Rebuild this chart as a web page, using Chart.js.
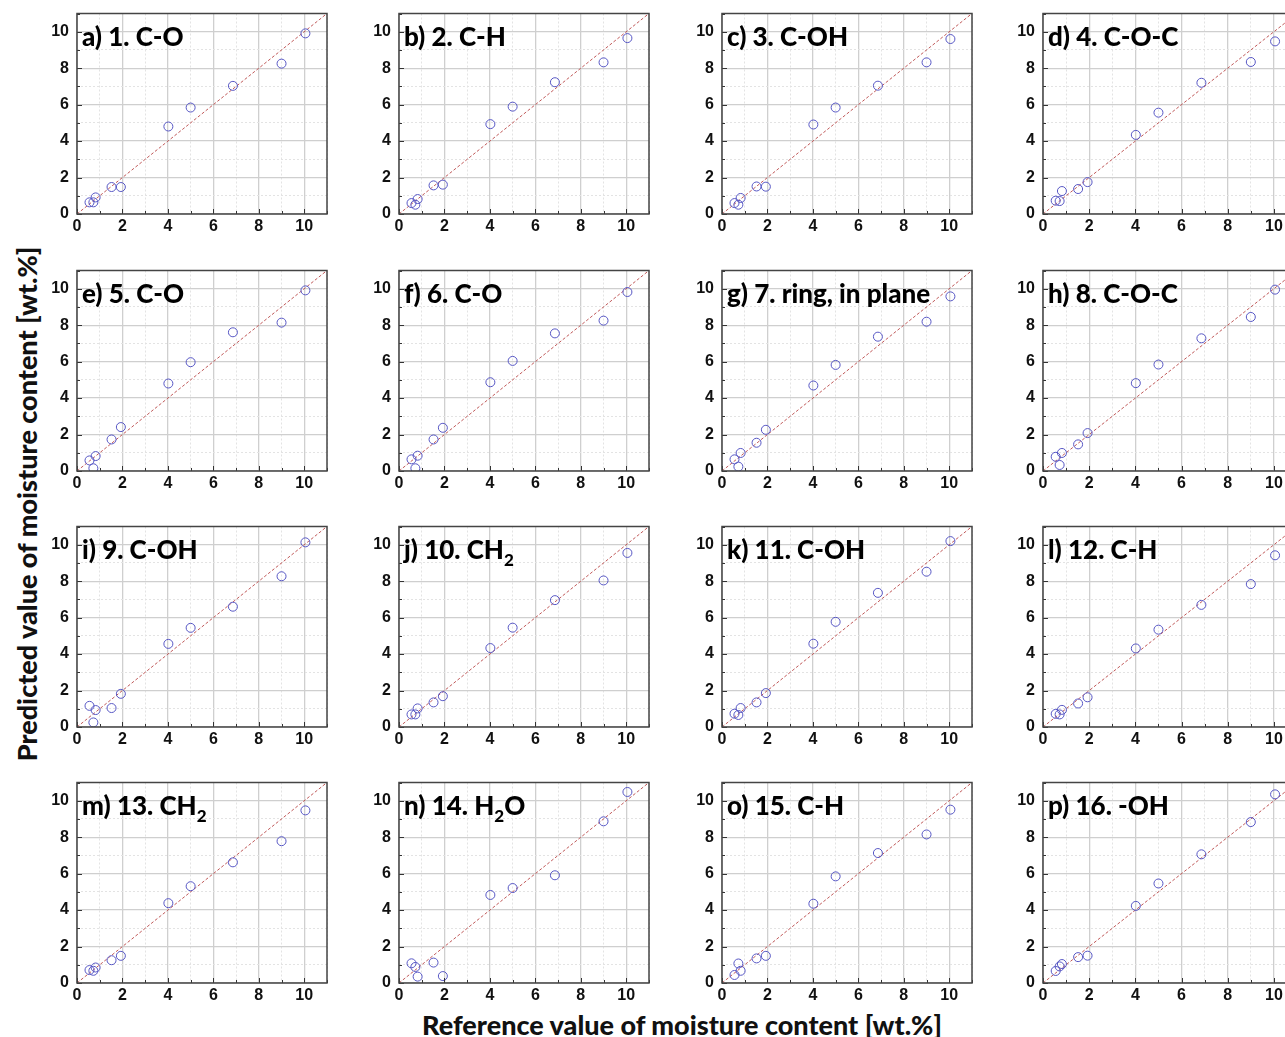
<!DOCTYPE html>
<html>
<head>
<meta charset="utf-8">
<script src="https://cdn.jsdelivr.net/npm/chart.js@4.4.1/dist/chart.umd.min.js"></script>
<style>
  html, body { margin: 0; padding: 0; background: #fff; overflow: hidden; }
  body { width: 1285px; height: 1037px; position: relative; }
  .panel { position: absolute; }
  .axis-title { position: absolute; font-family: Lato, 'Open Sans', sans-serif; font-weight: 900; font-size: 27px; color: #111; white-space: nowrap; }
  #ytitle { left: 26px; top: 504px; transform: translate(-50%, -50%) rotate(-90deg); }
  #xtitle { left: 682px; top: 1024px; transform: translate(-50%, -50%); }
</style>
</head>
<body>
<div id="ytitle" class="axis-title">Predicted value of moisture content [wt.%]</div>
<div id="xtitle" class="axis-title">Reference value of moisture content [wt.%]</div>
<script>
// reference moisture content, shared by all panels
const refX = [0.55, 0.72, 0.82, 1.52, 1.93, 4.02, 5.0, 6.86, 9.0, 10.05];

const predA = [0.64, 0.64, 0.91, 1.48, 1.48, 4.8, 5.84, 7.03, 8.25, 9.91];
const predB = [0.6, 0.51, 0.82, 1.57, 1.61, 4.93, 5.89, 7.23, 8.32, 9.65];
const predC = [0.6, 0.51, 0.88, 1.51, 1.5, 4.91, 5.84, 7.04, 8.32, 9.6];
const predD = [0.73, 0.71, 1.26, 1.37, 1.75, 4.34, 5.56, 7.2, 8.34, 9.47];
const predE = [0.58, 0.15, 0.82, 1.73, 2.41, 4.8, 5.97, 7.61, 8.14, 9.91];
const predF = [0.64, 0.15, 0.84, 1.73, 2.37, 4.87, 6.04, 7.55, 8.25, 9.82];
const predG = [0.64, 0.24, 0.99, 1.55, 2.26, 4.69, 5.82, 7.37, 8.19, 9.58];
const predH = [0.78, 0.33, 0.99, 1.46, 2.08, 4.82, 5.84, 7.28, 8.45, 9.95];
const predI = [1.16, 0.25, 0.93, 1.04, 1.82, 4.56, 5.44, 6.6, 8.27, 10.13];
const predJ = [0.69, 0.69, 1.02, 1.35, 1.69, 4.33, 5.45, 6.96, 8.04, 9.55];
const predK = [0.73, 0.66, 1.04, 1.35, 1.86, 4.57, 5.77, 7.36, 8.52, 10.2];
const predL = [0.72, 0.69, 0.94, 1.29, 1.63, 4.31, 5.34, 6.7, 7.84, 9.42];
const predM = [0.71, 0.67, 0.85, 1.25, 1.49, 4.38, 5.31, 6.62, 7.78, 9.47];
const predN = [1.08, 0.88, 0.35, 1.12, 0.38, 4.83, 5.21, 5.91, 8.87, 10.48];
const predO = [0.44, 1.07, 0.67, 1.35, 1.49, 4.35, 5.85, 7.13, 8.15, 9.51];
const predP = [0.66, 0.91, 1.04, 1.42, 1.5, 4.23, 5.46, 7.06, 8.83, 10.35];

// "_2" marks a subscript 2
const panelTitles = [
  'a) 1. C-O', 'b) 2. C-H', 'c) 3. C-OH', 'd) 4. C-O-C',
  'e) 5. C-O', 'f) 6. C-O', 'g) 7. ring, in plane', 'h) 8. C-O-C',
  'i) 9. C-OH', 'j) 10. CH_2', 'k) 11. C-OH', 'l) 12. C-H',
  'm) 13. CH_2', 'n) 14. H_2O', 'o) 15. C-H', 'p) 16. -OH'
];
const predicted = [predA, predB, predC, predD, predE, predF, predG, predH,
                   predI, predJ, predK, predL, predM, predN, predO, predP];
const identityLine = [0, 11];
const axisTicks = [0, 2, 4, 6, 8, 10];

// layout of the plot areas
const colLeft = [77, 399, 722, 1043];
const colWidth = [250, 250, 250, 254];
const rowTop = [12, 269, 525, 781];
const plotH = 202;
const padL = 36, padT = 4, padR = 6, padB = 26;

const tickFont = { family: "'Liberation Sans Narrow', 'Liberation Sans', Arial, sans-serif", size: 16, weight: 'bold' };

const framePlugin = {
  id: 'frame',
  afterDatasetsDraw(chart) {
    const { ctx, chartArea: a, scales } = chart;
    ctx.save();
    ctx.strokeStyle = '#333';
    ctx.lineWidth = 1;
    for (let v = 0; v <= 11; v++) {
      const len = v % 2 === 0 ? 5 : 3;
      const px = Math.round(scales.x.getPixelForValue(v)) + 0.5;
      const py = Math.round(scales.y.getPixelForValue(v)) + 0.5;
      ctx.beginPath();
      ctx.moveTo(px, a.bottom); ctx.lineTo(px, a.bottom - len);
      ctx.moveTo(a.left, py); ctx.lineTo(a.left + len, py);
      ctx.stroke();
    }
    ctx.strokeStyle = '#444';
    ctx.lineWidth = 1.5;
    ctx.strokeRect(a.left, a.top, a.right - a.left, a.bottom - a.top);
    ctx.restore();
  },
  afterDraw(chart, args, opts) {
    const { ctx, chartArea: a } = chart;
    const parts = opts.text.split(/_(\d)/);
    let x = a.left + 5;
    const y = a.top + 32;
    ctx.save();
    ctx.fillStyle = '#000';
    ctx.textBaseline = 'alphabetic';
    parts.forEach((p, i) => {
      const isSub = i % 2 === 1;
      ctx.font = `900 ${isSub ? 17 : 26}px Lato, 'Open Sans', sans-serif`;
      ctx.fillText(p, x, isSub ? y + 7 : y);
      x += ctx.measureText(p).width;
    });
    ctx.restore();
  }
};

function axisOpts(isX) {
  return {
    type: 'linear', min: 0, max: 11,
    afterFit(scale) {
      // fixed axis boxes, no automatic label overhang padding
      if (isX) scale.height = padB; else scale.width = padL;
      scale.paddingTop = 0; scale.paddingBottom = 0;
      scale.paddingLeft = 0; scale.paddingRight = 0;
    },
    ticks: {
      stepSize: 1, autoSkip: false, padding: isX ? 3 : 8,
      maxRotation: 0, minRotation: 0,
      color: '#111', font: tickFont,
      callback: v => axisTicks.includes(v) ? String(v) : ''
    },
    grid: {
      drawTicks: false,
      color: c => (c.tick && c.tick.value % 2 === 0) ? '#cfcfcf' : '#e3e3e3',
      lineWidth: c => (c.tick && c.tick.value % 2 === 0) ? 1.3 : 1
    },
    border: {
      display: false,
      dash: c => (c.tick && c.tick.value % 2 === 1) ? [2, 2] : []
    }
  };
}

predicted.forEach((pred, i) => {
  const row = Math.floor(i / 4), col = i % 4;
  const w = colWidth[col] + padL + padR;
  const h = plotH + padT + padB;
  const div = document.createElement('div');
  div.className = 'panel';
  div.style.left = (colLeft[col] - padL) + 'px';
  div.style.top = (rowTop[row] - padT) + 'px';
  const canvas = document.createElement('canvas');
  canvas.width = w; canvas.height = h;
  canvas.style.width = w + 'px'; canvas.style.height = h + 'px';
  div.appendChild(canvas);
  document.body.appendChild(div);

  new Chart(canvas.getContext('2d'), {
    type: 'scatter',
    data: {
      datasets: [
        {
          data: identityLine.map(v => ({ x: v, y: v })),
          showLine: true, pointRadius: 0, borderColor: '#c05a5a',
          borderWidth: 1, borderDash: [3, 2], order: 2
        },
        {
          data: refX.map((x, k) => ({ x, y: pred[k] })),
          pointStyle: 'circle', pointRadius: 4.5,
          backgroundColor: 'rgba(0,0,0,0)', borderColor: '#5656c4',
          pointBorderWidth: 1, order: 1
        }
      ]
    },
    options: {
      responsive: false, animation: false, devicePixelRatio: 1,
      layout: { padding: { left: 0, top: padT, right: padR, bottom: 0 } },
      plugins: { legend: { display: false }, tooltip: { enabled: false }, frame: { text: panelTitles[i] } },
      scales: { x: axisOpts(true), y: axisOpts(false) }
    },
    plugins: [framePlugin]
  });
});
</script>
</body>
</html>
